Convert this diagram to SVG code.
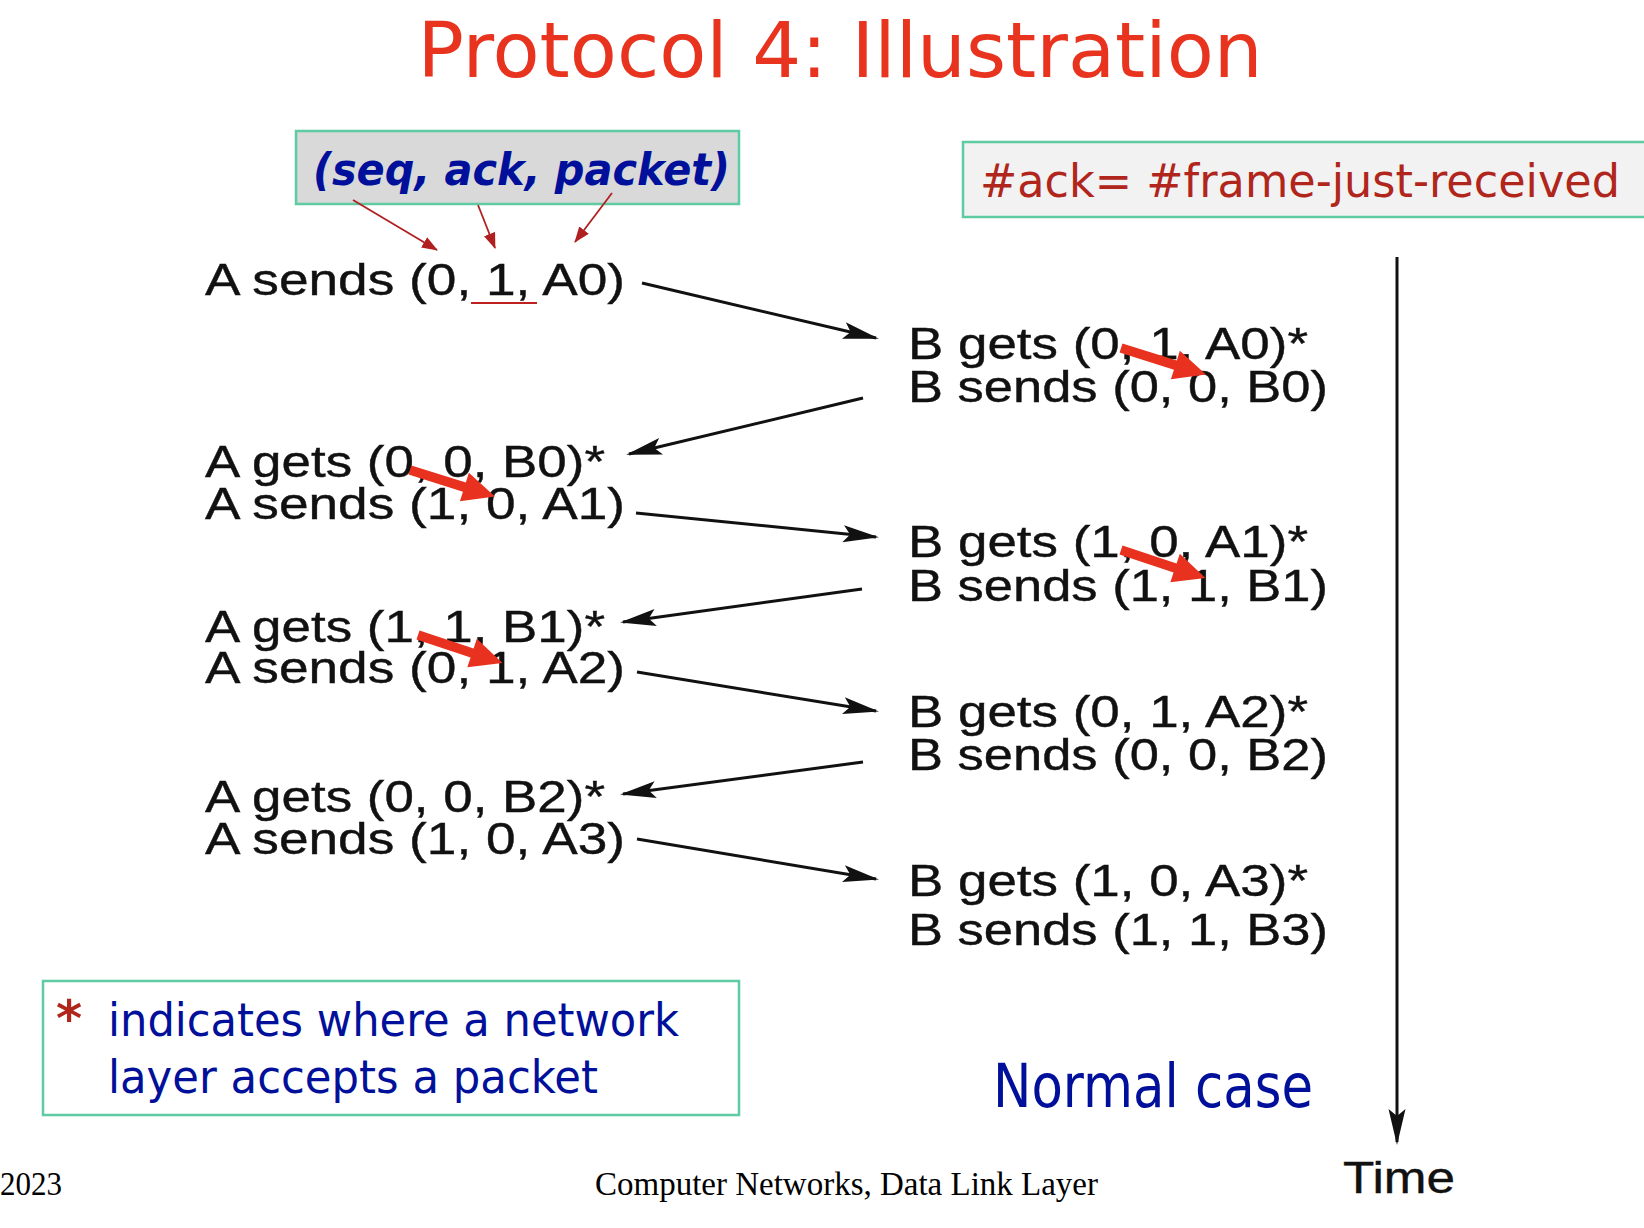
<svg xmlns="http://www.w3.org/2000/svg" width="1644" height="1228" viewBox="0 0 1644 1228">
  <style>
    .main { font-family: "Liberation Sans", Arial, sans-serif; font-size: 44px; fill: #111; stroke: #111; stroke-width: 0.4; }
    .comic { font-family: "DejaVu Sans", sans-serif; }
    .note { fill: #00109a; }
    .teal { stroke: #5ecba3; stroke-width: 2.5; }
    .blk { stroke: #111; stroke-width: 3; fill: none; marker-end: url(#blkHead); }
    .rthin { stroke: #b02020; stroke-width: 1.8; fill: none; marker-end: url(#redHead); }
  </style>
  <defs>
    <marker id="blkHead" markerUnits="userSpaceOnUse" viewBox="0 0 36 18" refX="33" refY="9" markerWidth="36" markerHeight="18" orient="auto">
      <path d="M0,0.5 L36,9 L0,17.5 L7,9 z" fill="#111"/>
    </marker>
    <marker id="redHead" markerUnits="userSpaceOnUse" viewBox="0 0 16 12" refX="15" refY="6" markerWidth="16" markerHeight="12" orient="auto">
      <path d="M0,0 L16,6 L0,12 z" fill="#b02020"/>
    </marker>
    <polygon id="bigRed" points="0,-4.8 57,-4.8 57,-15 89,0 57,15 57,4.8 0,4.8" fill="#e8321f"/>
  </defs>

  <rect width="1644" height="1228" fill="#ffffff"/>

  <g id="title">
    <text x="840" y="77" text-anchor="middle" font-family="'DejaVu Sans', sans-serif" font-size="77" fill="#e8331f">Protocol 4: Illustration</text>
  </g>

  <g id="legend-seq">
    <rect x="296" y="131" width="443" height="73" fill="#d9d9d9" class="teal"/>
    <text x="313" y="185" class="comic" font-size="44" font-weight="bold" font-style="italic" fill="#00109a" textLength="417" lengthAdjust="spacingAndGlyphs">(seq, ack, packet)</text>
  </g>

  <g id="legend-ack">
    <rect x="963" y="142" width="700" height="75" fill="#f2f2f2" class="teal"/>
    <text x="980" y="197" class="comic" font-size="46" fill="#b0261c" textLength="640" lengthAdjust="spacingAndGlyphs">#ack= #frame-just-received</text>
  </g>

  <g id="node-A0"><text class="main" x="205" y="295" textLength="420" lengthAdjust="spacingAndGlyphs">A sends (0, 1, A0)</text></g>
  <g id="node-B0">
    <text class="main" x="908" y="359" textLength="400" lengthAdjust="spacingAndGlyphs">B gets (0, 1, A0)*</text>
    <text class="main" x="908" y="402" textLength="420" lengthAdjust="spacingAndGlyphs">B sends (0, 0, B0)</text>
  </g>
  <g id="node-A1">
    <text class="main" x="205" y="477" textLength="400" lengthAdjust="spacingAndGlyphs">A gets (0, 0, B0)*</text>
    <text class="main" x="205" y="519" textLength="420" lengthAdjust="spacingAndGlyphs">A sends (1, 0, A1)</text>
  </g>
  <g id="node-B1">
    <text class="main" x="908" y="557" textLength="400" lengthAdjust="spacingAndGlyphs">B gets (1, 0, A1)*</text>
    <text class="main" x="908" y="601" textLength="420" lengthAdjust="spacingAndGlyphs">B sends (1, 1, B1)</text>
  </g>
  <g id="node-A2">
    <text class="main" x="205" y="642" textLength="400" lengthAdjust="spacingAndGlyphs">A gets (1, 1, B1)*</text>
    <text class="main" x="205" y="683" textLength="420" lengthAdjust="spacingAndGlyphs">A sends (0, 1, A2)</text>
  </g>
  <g id="node-B2">
    <text class="main" x="908" y="727" textLength="400" lengthAdjust="spacingAndGlyphs">B gets (0, 1, A2)*</text>
    <text class="main" x="908" y="770" textLength="420" lengthAdjust="spacingAndGlyphs">B sends (0, 0, B2)</text>
  </g>
  <g id="node-A3">
    <text class="main" x="205" y="812" textLength="400" lengthAdjust="spacingAndGlyphs">A gets (0, 0, B2)*</text>
    <text class="main" x="205" y="854" textLength="420" lengthAdjust="spacingAndGlyphs">A sends (1, 0, A3)</text>
  </g>
  <g id="node-B3">
    <text class="main" x="908" y="896" textLength="400" lengthAdjust="spacingAndGlyphs">B gets (1, 0, A3)*</text>
    <text class="main" x="908" y="945" textLength="420" lengthAdjust="spacingAndGlyphs">B sends (1, 1, B3)</text>
  </g>

  <g id="connectors">
    <line class="blk" x1="642" y1="283" x2="876" y2="338"/>
    <line class="blk" x1="863" y1="398" x2="629" y2="454"/>
    <line class="blk" x1="636" y1="513" x2="876" y2="537"/>
    <line class="blk" x1="862" y1="589" x2="623" y2="622"/>
    <line class="blk" x1="637" y1="672" x2="876" y2="711"/>
    <line class="blk" x1="863" y1="762" x2="623" y2="794"/>
    <line class="blk" x1="637" y1="839" x2="876" y2="879"/>
    <line class="rthin" x1="353" y1="200" x2="437" y2="250"/>
    <line class="rthin" x1="478" y1="205" x2="495" y2="248"/>
    <line class="rthin" x1="612" y1="193" x2="575" y2="242"/>
    <line x1="471" y1="303" x2="537" y2="303" stroke="#c02020" stroke-width="2"/>
    <use href="#bigRed" transform="translate(1121,348) rotate(17.4)"/>
    <use href="#bigRed" transform="translate(410,470) rotate(17.4)"/>
    <use href="#bigRed" transform="translate(1121,550) rotate(18.4)"/>
    <use href="#bigRed" transform="translate(418,635) rotate(18.4)"/>
    <line class="blk" x1="1397" y1="257" x2="1397" y2="1142"/>
  </g>

  <g id="time-label">
    <text class="main" x="1343" y="1193" font-size="46" textLength="112" lengthAdjust="spacingAndGlyphs">Time</text>
  </g>

  <g id="legend-star">
    <rect x="43" y="981" width="696" height="134" fill="#ffffff" class="teal"/>
    <text x="56" y="1036" font-family="'DejaVu Sans', sans-serif" font-size="50" font-weight="bold" fill="#b0261c">*</text>
    <text x="108" y="1036" class="comic note" font-size="46" textLength="571" lengthAdjust="spacingAndGlyphs">indicates where a network</text>
    <text x="108" y="1093" class="comic note" font-size="46" textLength="490" lengthAdjust="spacingAndGlyphs">layer accepts a packet</text>
  </g>

  <g id="normal-case">
    <text x="993" y="1107" class="comic note" font-size="60" textLength="320" lengthAdjust="spacingAndGlyphs">Normal case</text>
  </g>

  <g id="footer">
    <text x="0" y="1195" font-family="'Liberation Serif', 'Times New Roman', serif" font-size="34" fill="#000" textLength="62" lengthAdjust="spacingAndGlyphs">2023</text>
    <text x="595" y="1195" font-family="'Liberation Serif', 'Times New Roman', serif" font-size="34" fill="#000" textLength="503" lengthAdjust="spacingAndGlyphs">Computer Networks, Data Link Layer</text>
  </g>
</svg>
